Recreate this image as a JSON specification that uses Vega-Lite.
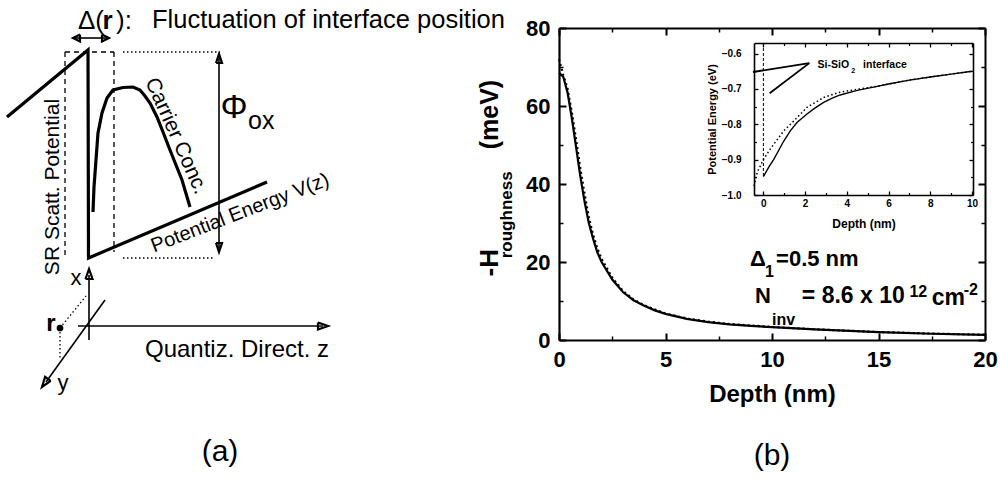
{
  "$schema": "https://vega.github.io/schema/vega-lite/v6.json",
  "width": 1000,
  "height": 479,
  "autosize": {"type": "none"},
  "padding": 0,
  "background": "white",
  "config": {
    "view": {"stroke": null},
    "font": "Liberation Sans",
    "axis": {"grid": false, "domainColor": "black", "tickColor": "black", "labelColor": "black", "titleColor": "black", "labelFlush": false, "labelOverlap": false, "labelFont": "Liberation Sans", "titleFont": "Liberation Sans"}
  },
  "datasets": {
    "mainCurves": [
      {"series": "solid", "depth": 0, "value": 68.5},
      {"series": "solid", "depth": 0.2, "value": 67.5},
      {"series": "solid", "depth": 0.4, "value": 63.5},
      {"series": "solid", "depth": 0.6, "value": 57},
      {"series": "solid", "depth": 0.8, "value": 49.5},
      {"series": "solid", "depth": 1.0, "value": 42},
      {"series": "solid", "depth": 1.2, "value": 35.5},
      {"series": "solid", "depth": 1.4, "value": 30},
      {"series": "solid", "depth": 1.6, "value": 26},
      {"series": "solid", "depth": 1.8, "value": 22.5},
      {"series": "solid", "depth": 2.0, "value": 20},
      {"series": "solid", "depth": 2.5, "value": 15.5},
      {"series": "solid", "depth": 3.0, "value": 12.3},
      {"series": "solid", "depth": 3.5, "value": 10.2},
      {"series": "solid", "depth": 4.0, "value": 8.8},
      {"series": "solid", "depth": 4.5, "value": 7.6},
      {"series": "solid", "depth": 5, "value": 6.7},
      {"series": "solid", "depth": 6, "value": 5.4},
      {"series": "solid", "depth": 7, "value": 4.6},
      {"series": "solid", "depth": 8, "value": 4.0},
      {"series": "solid", "depth": 9, "value": 3.6},
      {"series": "solid", "depth": 10, "value": 3.3},
      {"series": "solid", "depth": 12, "value": 2.7},
      {"series": "solid", "depth": 15, "value": 2.0},
      {"series": "solid", "depth": 17.5, "value": 1.6},
      {"series": "solid", "depth": 20, "value": 1.3},
      {"series": "dotted", "depth": 0, "value": 72},
      {"series": "dotted", "depth": 0.1, "value": 70},
      {"series": "dotted", "depth": 0.2, "value": 68},
      {"series": "dotted", "depth": 0.4, "value": 64.5},
      {"series": "dotted", "depth": 0.6, "value": 58.5},
      {"series": "dotted", "depth": 0.8, "value": 51.5},
      {"series": "dotted", "depth": 1.0, "value": 44},
      {"series": "dotted", "depth": 1.2, "value": 37.5},
      {"series": "dotted", "depth": 1.4, "value": 31.5},
      {"series": "dotted", "depth": 1.6, "value": 27},
      {"series": "dotted", "depth": 1.8, "value": 23.5},
      {"series": "dotted", "depth": 2.0, "value": 20.8},
      {"series": "dotted", "depth": 2.5, "value": 16},
      {"series": "dotted", "depth": 3.0, "value": 12.6},
      {"series": "dotted", "depth": 3.5, "value": 10.4},
      {"series": "dotted", "depth": 4, "value": 8.9},
      {"series": "dotted", "depth": 5, "value": 6.8},
      {"series": "dotted", "depth": 6, "value": 5.5},
      {"series": "dotted", "depth": 7, "value": 4.7},
      {"series": "dotted", "depth": 8, "value": 4.1},
      {"series": "dotted", "depth": 10, "value": 3.35},
      {"series": "dotted", "depth": 12, "value": 2.75},
      {"series": "dotted", "depth": 15, "value": 2.05},
      {"series": "dotted", "depth": 17.5, "value": 1.65},
      {"series": "dotted", "depth": 20, "value": 1.35}
    ],
    "insetCurves": [
      {"series": "solid", "depth": 0, "energy": -0.948},
      {"series": "solid", "depth": 0.25, "energy": -0.922},
      {"series": "solid", "depth": 0.49, "energy": -0.9},
      {"series": "solid", "depth": 0.75, "energy": -0.872},
      {"series": "solid", "depth": 0.97, "energy": -0.848},
      {"series": "solid", "depth": 1.3, "energy": -0.818},
      {"series": "solid", "depth": 1.61, "energy": -0.795},
      {"series": "solid", "depth": 2.09, "energy": -0.771},
      {"series": "solid", "depth": 2.5, "energy": -0.753},
      {"series": "solid", "depth": 2.89, "energy": -0.738},
      {"series": "solid", "depth": 3.3, "energy": -0.726},
      {"series": "solid", "depth": 3.68, "energy": -0.717},
      {"series": "solid", "depth": 4.5, "energy": -0.704},
      {"series": "solid", "depth": 5.28, "energy": -0.695},
      {"series": "solid", "depth": 6, "energy": -0.686},
      {"series": "solid", "depth": 7, "energy": -0.675},
      {"series": "solid", "depth": 8, "energy": -0.666},
      {"series": "solid", "depth": 9, "energy": -0.658},
      {"series": "solid", "depth": 10, "energy": -0.65},
      {"series": "dotted", "depth": -0.45, "energy": -0.975},
      {"series": "dotted", "depth": -0.29, "energy": -0.935},
      {"series": "dotted", "depth": 0, "energy": -0.9},
      {"series": "dotted", "depth": 0.25, "energy": -0.877},
      {"series": "dotted", "depth": 0.49, "energy": -0.857},
      {"series": "dotted", "depth": 0.97, "energy": -0.819},
      {"series": "dotted", "depth": 1.45, "energy": -0.791},
      {"series": "dotted", "depth": 2.09, "energy": -0.752},
      {"series": "dotted", "depth": 2.89, "energy": -0.724},
      {"series": "dotted", "depth": 3.68, "energy": -0.709},
      {"series": "dotted", "depth": 4.5, "energy": -0.701},
      {"series": "dotted", "depth": 5.28, "energy": -0.694},
      {"series": "dotted", "depth": 6, "energy": -0.686},
      {"series": "dotted", "depth": 7, "energy": -0.675},
      {"series": "dotted", "depth": 8, "energy": -0.666},
      {"series": "dotted", "depth": 9, "energy": -0.658},
      {"series": "dotted", "depth": 10, "energy": -0.65},
      {"series": "barrier", "depth": 0, "energy": -0.57},
      {"series": "barrier", "depth": 0, "energy": -0.948}
    ],
    "insetArrows": [
      {"arrow": "a1", "o": 0, "depth": 2.2, "energy": -0.627},
      {"arrow": "a1", "o": 1, "depth": -0.5, "energy": -0.652},
      {"arrow": "a2", "o": 0, "depth": 2.2, "energy": -0.627},
      {"arrow": "a2", "o": 1, "depth": 0.3, "energy": -0.712}
    ],
    "diagramLines": [
      {"seg": "potential", "o": 0, "x": 0.7, "y": 11.7},
      {"seg": "potential", "o": 1, "x": 8.8, "y": 5.0},
      {"seg": "potential", "o": 2, "x": 8.85, "y": 25.8},
      {"seg": "potential", "o": 3, "x": 26.7, "y": 18.2},
      {"seg": "carrier", "o": 0, "x": 9.3, "y": 21.2},
      {"seg": "carrier", "o": 1, "x": 9.4, "y": 18.7},
      {"seg": "carrier", "o": 2, "x": 9.6, "y": 16.0},
      {"seg": "carrier", "o": 3, "x": 9.8, "y": 13.3},
      {"seg": "carrier", "o": 4, "x": 10.2, "y": 11.3},
      {"seg": "carrier", "o": 5, "x": 10.7, "y": 9.8},
      {"seg": "carrier", "o": 6, "x": 11.3, "y": 9.0},
      {"seg": "carrier", "o": 7, "x": 12.3, "y": 8.75},
      {"seg": "carrier", "o": 8, "x": 13.3, "y": 8.7},
      {"seg": "carrier", "o": 9, "x": 14.0, "y": 9.0},
      {"seg": "carrier", "o": 10, "x": 14.5, "y": 9.6},
      {"seg": "carrier", "o": 11, "x": 15.0, "y": 10.3},
      {"seg": "carrier", "o": 12, "x": 15.7, "y": 11.7},
      {"seg": "carrier", "o": 13, "x": 16.3, "y": 13.2},
      {"seg": "carrier", "o": 14, "x": 17.0, "y": 15.0},
      {"seg": "carrier", "o": 15, "x": 17.6, "y": 16.5},
      {"seg": "carrier", "o": 16, "x": 18.2, "y": 18.0},
      {"seg": "carrier", "o": 17, "x": 19.0, "y": 20.7},
      {"seg": "dashL", "o": 0, "x": 6.5, "y": 5.2},
      {"seg": "dashL", "o": 1, "x": 6.5, "y": 25.5},
      {"seg": "dashTop", "o": 0, "x": 6.5, "y": 5.2},
      {"seg": "dashTop", "o": 1, "x": 11.4, "y": 5.2},
      {"seg": "dashR", "o": 0, "x": 11.4, "y": 5.2},
      {"seg": "dashR", "o": 1, "x": 11.4, "y": 25.2},
      {"seg": "dotTop", "o": 0, "x": 12.3, "y": 5.2},
      {"seg": "dotTop", "o": 1, "x": 22.0, "y": 5.2},
      {"seg": "dotBottom", "o": 0, "x": 12.3, "y": 25.8},
      {"seg": "dotBottom", "o": 1, "x": 21.3, "y": 25.8},
      {"seg": "rx", "o": 0, "x": 6.0, "y": 32.8},
      {"seg": "rx", "o": 1, "x": 8.6, "y": 29.6},
      {"seg": "ry", "o": 0, "x": 6.0, "y": 32.8},
      {"seg": "ry", "o": 1, "x": 6.0, "y": 35.8},
      {"seg": "phi", "o": 0, "x": 21.9, "y": 5.8},
      {"seg": "phi", "o": 1, "x": 21.9, "y": 24.8},
      {"seg": "delta", "o": 0, "x": 7.5, "y": 3.8},
      {"seg": "delta", "o": 1, "x": 10.7, "y": 3.8},
      {"seg": "xaxis", "o": 0, "x": 8.9, "y": 34.0},
      {"seg": "xaxis", "o": 1, "x": 8.9, "y": 27.5},
      {"seg": "zaxis", "o": 0, "x": 7.8, "y": 32.6},
      {"seg": "zaxis", "o": 1, "x": 32.3, "y": 32.6},
      {"seg": "yaxis", "o": 0, "x": 10.5, "y": 30.0},
      {"seg": "yaxis", "o": 1, "x": 4.6, "y": 38.2},
      {"seg": "headDL", "o": 0, "x": 8.0, "y": 3.45},
      {"seg": "headDL", "o": 1, "x": 7.3, "y": 3.8},
      {"seg": "headDL", "o": 2, "x": 8.0, "y": 4.15},
      {"seg": "headDL", "o": 3, "x": 8.0, "y": 3.45},
      {"seg": "headDR", "o": 0, "x": 10.2, "y": 3.45},
      {"seg": "headDR", "o": 1, "x": 10.9, "y": 3.8},
      {"seg": "headDR", "o": 2, "x": 10.2, "y": 4.15},
      {"seg": "headDR", "o": 3, "x": 10.2, "y": 3.45},
      {"seg": "headPU", "o": 0, "x": 21.6, "y": 6.3},
      {"seg": "headPU", "o": 1, "x": 21.9, "y": 5.4},
      {"seg": "headPU", "o": 2, "x": 22.2, "y": 6.3},
      {"seg": "headPU", "o": 3, "x": 21.6, "y": 6.3},
      {"seg": "headPD", "o": 0, "x": 21.6, "y": 24.3},
      {"seg": "headPD", "o": 1, "x": 21.9, "y": 25.2},
      {"seg": "headPD", "o": 2, "x": 22.2, "y": 24.3},
      {"seg": "headPD", "o": 3, "x": 21.6, "y": 24.3},
      {"seg": "headX", "o": 0, "x": 8.55, "y": 27.9},
      {"seg": "headX", "o": 1, "x": 8.9, "y": 26.9},
      {"seg": "headX", "o": 2, "x": 9.25, "y": 27.9},
      {"seg": "headX", "o": 3, "x": 8.55, "y": 27.9},
      {"seg": "headZ", "o": 0, "x": 31.8, "y": 32.25},
      {"seg": "headZ", "o": 1, "x": 32.8, "y": 32.6},
      {"seg": "headZ", "o": 2, "x": 31.8, "y": 32.95},
      {"seg": "headZ", "o": 3, "x": 31.8, "y": 32.25},
      {"seg": "headY", "o": 0, "x": 5.07, "y": 38.09},
      {"seg": "headY", "o": 1, "x": 4.2, "y": 38.7},
      {"seg": "headY", "o": 2, "x": 4.51, "y": 37.69},
      {"seg": "headY", "o": 3, "x": 5.07, "y": 38.09}
    ]
  },
  "layer": [
    {
      "encoding": {
        "x": {"field": "depth", "type": "quantitative", "scale": {"domain": [0, 20], "range": [559, 985], "nice": false, "zero": false}, "axis": null},
        "y": {"field": "value", "type": "quantitative", "scale": {"domain": [0, 80], "range": [340, 28], "nice": false, "zero": false}, "axis": null}
      },
      "layer": [
        {
          "data": {"name": "mainCurves"},
          "transform": [{"filter": "datum.series === 'solid'"}],
          "mark": {"type": "line", "color": "black", "strokeWidth": 2.2},
          "encoding": {
            "x": {"field": "depth", "type": "quantitative", "scale": {"domain": [0, 20], "range": [559, 985], "nice": false, "zero": false},
              "axis": {"orient": "bottom", "offset": -139, "values": [0, 5, 10, 15, 20], "format": "d", "tickSize": -7, "tickWidth": 2, "domainWidth": 2.2, "labelFontSize": 22, "labelFontWeight": "bold", "labelPadding": 16, "title": "Depth (nm)", "titleFontSize": 24, "titleFontWeight": "bold", "titlePadding": 12}},
            "y": {"field": "value", "type": "quantitative", "scale": {"domain": [0, 80], "range": [340, 28], "nice": false, "zero": false},
              "axis": {"orient": "left", "offset": -559, "values": [0, 20, 40, 60, 80], "format": "d", "tickSize": -7, "tickWidth": 2, "domainWidth": 2.2, "labelFontSize": 22, "labelFontWeight": "bold", "labelPadding": 16, "title": null}}
          }
        },
        {
          "data": {"name": "mainCurves"},
          "transform": [{"filter": "datum.series === 'dotted'"}],
          "mark": {"type": "line", "color": "black", "strokeWidth": 2.2, "strokeDash": [2, 3]},
          "encoding": {
            "x": {"field": "depth", "type": "quantitative", "scale": {"domain": [0, 20], "range": [559, 985], "nice": false, "zero": false},
              "axis": {"orient": "top", "offset": -28, "values": [0, 5, 10, 15, 20], "tickSize": -7, "tickWidth": 2, "domainWidth": 2, "labels": false, "title": null}},
            "y": {"field": "value", "type": "quantitative", "scale": {"domain": [0, 80], "range": [340, 28], "nice": false, "zero": false},
              "axis": {"orient": "right", "offset": -15, "values": [0, 20, 40, 60, 80], "tickSize": -7, "tickWidth": 2, "domainWidth": 2, "labels": false, "title": null}}
          }
        },
        {
          "data": {"values": [{"t": "-H", "depth": -3.24, "value": 19.8}]},
          "mark": {"type": "text", "angle": 270, "fontSize": 26, "fontWeight": "bold", "align": "center", "baseline": "middle", "color": "black"},
          "encoding": {
            "x": {"field": "depth", "type": "quantitative", "scale": {"domain": [0, 20], "range": [559, 985], "nice": false, "zero": false},
              "axis": {"orient": "bottom", "offset": -139, "values": [2.5, 7.5, 12.5, 17.5], "tickSize": -4, "tickWidth": 1.5, "domain": false, "labels": false, "title": null}},
            "y": {"field": "value", "type": "quantitative", "scale": {"domain": [0, 80], "range": [340, 28], "nice": false, "zero": false},
              "axis": {"orient": "left", "offset": -559, "values": [10, 30, 50, 70], "tickSize": -4, "tickWidth": 1.5, "domain": false, "labels": false, "title": null}},
            "text": {"field": "t"}
          }
        },
        {
          "data": {"values": [{"t": "(meV)", "depth": -3.24, "value": 57.8}]},
          "mark": {"type": "text", "angle": 270, "fontSize": 25, "fontWeight": "bold", "align": "center", "baseline": "middle", "color": "black"},
          "encoding": {
            "x": {"field": "depth", "type": "quantitative", "scale": {"domain": [0, 20], "range": [559, 985], "nice": false, "zero": false},
              "axis": {"orient": "top", "offset": -28, "values": [2.5, 7.5, 12.5, 17.5], "tickSize": -4, "tickWidth": 1.5, "domain": false, "labels": false, "title": null}},
            "y": {"field": "value", "type": "quantitative", "scale": {"domain": [0, 80], "range": [340, 28], "nice": false, "zero": false},
              "axis": {"orient": "right", "offset": -15, "values": [10, 30, 50, 70], "tickSize": -4, "tickWidth": 1.5, "domain": false, "labels": false, "title": null}},
            "text": {"field": "t"}
          }
        },
        {
          "data": {"values": [{"t": "roughness", "depth": -2.44, "value": 32.1}]},
          "mark": {"type": "text", "angle": 270, "fontSize": 17, "fontWeight": "bold", "align": "center", "baseline": "middle", "color": "black"},
          "encoding": {"text": {"field": "t"}}
        },
        {
          "data": {"values": [
            {"t": "Δ", "depth": 8.97, "value": 20.8},
            {"t": "=0.5 nm", "depth": 10.19, "value": 20.8},
            {"t": "N", "depth": 9.2, "value": 11.3}
          ]},
          "mark": {"type": "text", "fontSize": 22, "fontWeight": "bold", "align": "left", "baseline": "middle", "color": "black"},
          "encoding": {"text": {"field": "t"}}
        },
        {
          "data": {"values": [
            {"t": "= 8.6 x 10", "depth": 11.4, "value": 11.3},
            {"t": "cm", "depth": 17.5, "value": 10.8}
          ]},
          "mark": {"type": "text", "fontSize": 23, "fontWeight": "bold", "align": "left", "baseline": "middle", "color": "black"},
          "encoding": {"text": {"field": "t"}}
        },
        {
          "data": {"values": [
            {"t": "1", "depth": 9.67, "value": 17.4},
            {"t": "inv", "depth": 10.0, "value": 5.1},
            {"t": "12", "depth": 16.45, "value": 12.4},
            {"t": "-2", "depth": 19.0, "value": 12.9}
          ]},
          "mark": {"type": "text", "fontSize": 16, "fontWeight": "bold", "align": "left", "baseline": "middle", "color": "black"},
          "encoding": {"text": {"field": "t"}}
        }
      ],
      "resolve": {"axis": {"x": "independent", "y": "independent"}}
    },
    {
      "encoding": {
        "x": {"field": "depth", "type": "quantitative", "scale": {"domain": [-0.45, 10.05], "range": [754, 973], "nice": false, "zero": false}, "axis": null},
        "y": {"field": "energy", "type": "quantitative", "scale": {"domain": [-1.0, -0.57], "range": [195, 43], "nice": false, "zero": false}, "axis": null}
      },
      "layer": [
        {
          "data": {"name": "insetCurves"},
          "transform": [{"filter": "datum.series === 'solid'"}],
          "mark": {"type": "line", "color": "black", "strokeWidth": 1.4},
          "encoding": {
            "x": {"field": "depth", "type": "quantitative", "scale": {"domain": [-0.45, 10.05], "range": [754, 973], "nice": false, "zero": false},
              "axis": {"orient": "bottom", "offset": -284, "values": [0, 2, 4, 6, 8, 10], "format": "d", "tickSize": -4, "tickWidth": 1.3, "domainWidth": 1.6, "labelFontSize": 10, "labelFontWeight": "bold", "labelPadding": 7, "title": "Depth (nm)", "titleFontSize": 12, "titleFontWeight": "bold", "titlePadding": 10}},
            "y": {"field": "energy", "type": "quantitative", "scale": {"domain": [-1.0, -0.57], "range": [195, 43], "nice": false, "zero": false},
              "axis": {"orient": "left", "offset": -754, "values": [-1.0, -0.9, -0.8, -0.7, -0.6], "format": ".1f", "tickSize": -4, "tickWidth": 1.3, "domainWidth": 1.6, "labelFontSize": 10, "labelFontWeight": "bold", "labelPadding": 17, "title": "Potential Energy (eV)", "titleFontSize": 11, "titleFontWeight": "bold", "titlePadding": 4}}
          }
        },
        {
          "data": {"name": "insetCurves"},
          "transform": [{"filter": "datum.series === 'dotted'"}],
          "mark": {"type": "line", "color": "black", "strokeWidth": 1.5, "strokeDash": [1.5, 2.5]},
          "encoding": {
            "x": {"field": "depth", "type": "quantitative", "scale": {"domain": [-0.45, 10.05], "range": [754, 973], "nice": false, "zero": false},
              "axis": {"orient": "top", "offset": -43, "values": [0, 2, 4, 6, 8, 10], "tickSize": -4, "tickWidth": 1.3, "domainWidth": 1.6, "labels": false, "title": null}},
            "y": {"field": "energy", "type": "quantitative", "scale": {"domain": [-1.0, -0.57], "range": [195, 43], "nice": false, "zero": false},
              "axis": {"orient": "right", "offset": -27, "values": [-1.0, -0.9, -0.8, -0.7, -0.6], "tickSize": -4, "tickWidth": 1.3, "domainWidth": 1.6, "labels": false, "title": null}}
          }
        },
        {
          "data": {"name": "insetCurves"},
          "transform": [{"filter": "datum.series === 'barrier'"}],
          "mark": {"type": "line", "color": "black", "strokeWidth": 1, "strokeDash": [3, 2]},
          "encoding": {
            "x": {"field": "depth", "type": "quantitative", "scale": {"domain": [-0.45, 10.05], "range": [754, 973], "nice": false, "zero": false},
              "axis": {"orient": "bottom", "offset": -284, "values": [1, 3, 5, 7, 9], "tickSize": -2.5, "tickWidth": 1.2, "domain": false, "labels": false, "title": null}},
            "y": {"field": "energy", "type": "quantitative", "scale": {"domain": [-1.0, -0.57], "range": [195, 43], "nice": false, "zero": false},
              "axis": {"orient": "left", "offset": -754, "values": [-0.95, -0.85, -0.75, -0.65], "tickSize": -2.5, "tickWidth": 1.2, "domain": false, "labels": false, "title": null}}
          }
        },
        {
          "data": {"name": "insetArrows"},
          "mark": {"type": "line", "color": "black", "strokeWidth": 1.8},
          "encoding": {
            "x": {"field": "depth", "type": "quantitative", "scale": {"domain": [-0.45, 10.05], "range": [754, 973], "nice": false, "zero": false},
              "axis": {"orient": "top", "offset": -43, "values": [1, 3, 5, 7, 9], "tickSize": -2.5, "tickWidth": 1.2, "domain": false, "labels": false, "title": null}},
            "y": {"field": "energy", "type": "quantitative", "scale": {"domain": [-1.0, -0.57], "range": [195, 43], "nice": false, "zero": false},
              "axis": {"orient": "right", "offset": -27, "values": [-0.95, -0.85, -0.75, -0.65], "tickSize": -2.5, "tickWidth": 1.2, "domain": false, "labels": false, "title": null}},
            "detail": {"field": "arrow"},
            "order": {"field": "o", "type": "quantitative"}
          }
        },
        {
          "data": {"values": [
            {"t": "Si-SiO", "depth": 2.6, "energy": -0.631},
            {"t": "interface", "depth": 4.78, "energy": -0.631}
          ]},
          "mark": {"type": "text", "fontSize": 10.5, "fontWeight": "bold", "align": "left", "baseline": "middle", "color": "black"},
          "encoding": {"text": {"field": "t"}}
        },
        {
          "data": {"values": [{"t": "2", "depth": 4.21, "energy": -0.648}]},
          "mark": {"type": "text", "fontSize": 7, "fontWeight": "bold", "align": "left", "baseline": "middle", "color": "black"},
          "encoding": {"text": {"field": "t"}}
        }
      ],
      "resolve": {"axis": {"x": "independent", "y": "independent"}}
    },
    {
      "encoding": {
        "x": {"field": "x", "type": "quantitative", "scale": {"domain": [0, 50], "range": [0, 500], "nice": false, "zero": false}, "axis": null},
        "y": {"field": "y", "type": "quantitative", "scale": {"domain": [0, 47.9], "range": [0, 479], "nice": false, "zero": false}, "axis": null}
      },
      "layer": [
        {
          "data": {"name": "diagramLines"},
          "transform": [{"filter": {"field": "seg", "oneOf": ["potential", "carrier"]}}],
          "mark": {"type": "line", "color": "black", "strokeWidth": 3.2},
          "encoding": {"detail": {"field": "seg"}, "order": {"field": "o", "type": "quantitative"}}
        },
        {
          "data": {"name": "diagramLines"},
          "transform": [{"filter": {"field": "seg", "oneOf": ["dashL", "dashTop", "dashR"]}}],
          "mark": {"type": "line", "color": "black", "strokeWidth": 1.3, "strokeDash": [5, 4]},
          "encoding": {"detail": {"field": "seg"}, "order": {"field": "o", "type": "quantitative"}}
        },
        {
          "data": {"name": "diagramLines"},
          "transform": [{"filter": {"field": "seg", "oneOf": ["dotTop", "dotBottom", "rx", "ry"]}}],
          "mark": {"type": "line", "color": "black", "strokeWidth": 1.3, "strokeDash": [1.5, 2.5]},
          "encoding": {"detail": {"field": "seg"}, "order": {"field": "o", "type": "quantitative"}}
        },
        {
          "data": {"name": "diagramLines"},
          "transform": [{"filter": {"field": "seg", "oneOf": ["phi", "delta", "xaxis", "zaxis", "yaxis"]}}],
          "mark": {"type": "line", "color": "black", "strokeWidth": 1.6},
          "encoding": {"detail": {"field": "seg"}, "order": {"field": "o", "type": "quantitative"}}
        },
        {
          "data": {"name": "diagramLines"},
          "transform": [{"filter": {"field": "seg", "oneOf": ["headDL", "headDR", "headPU", "headPD", "headX", "headZ", "headY"]}}],
          "mark": {"type": "line", "color": "black", "strokeWidth": 2.2, "strokeJoin": "miter"},
          "encoding": {"detail": {"field": "seg"}, "order": {"field": "o", "type": "quantitative"}}
        },
        {
          "data": {"values": [{"x": 6.0, "y": 32.8}]},
          "mark": {"type": "point", "filled": true, "shape": "circle", "color": "black", "opacity": 1, "size": 45}
        },
        {
          "data": {"values": [{"t": "Fluctuation of interface position", "x": 15.2, "y": 2.0}]},
          "mark": {"type": "text", "fontSize": 25.5, "align": "left", "baseline": "middle", "color": "black"},
          "encoding": {"text": {"field": "t"}}
        },
        {
          "data": {"values": [{"t": "Δ(", "x": 7.8, "y": 2.1}, {"t": "):", "x": 11.6, "y": 2.1}]},
          "mark": {"type": "text", "fontSize": 26, "align": "left", "baseline": "middle", "color": "black"},
          "encoding": {"text": {"field": "t"}}
        },
        {
          "data": {"values": [{"t": "r", "x": 10.25, "y": 2.1}]},
          "mark": {"type": "text", "fontSize": 26, "fontWeight": "bold", "align": "left", "baseline": "middle", "color": "black"},
          "encoding": {"text": {"field": "t"}}
        },
        {
          "data": {"values": [{"t": "Φ", "x": 23.4, "y": 10.8}]},
          "mark": {"type": "text", "fontSize": 34, "align": "center", "baseline": "middle", "color": "black"},
          "encoding": {"text": {"field": "t"}}
        },
        {
          "data": {"values": [{"t": "ox", "x": 24.8, "y": 12.1}]},
          "mark": {"type": "text", "fontSize": 25, "align": "left", "baseline": "middle", "color": "black"},
          "encoding": {"text": {"field": "t"}}
        },
        {
          "data": {"values": [{"t": "SR Scatt. Potential", "x": 5.25, "y": 18.7}]},
          "mark": {"type": "text", "fontSize": 21, "angle": 270, "align": "center", "baseline": "middle", "color": "black"},
          "encoding": {"text": {"field": "t"}}
        },
        {
          "data": {"values": [{"t": "Carrier Conc.", "x": 17.6, "y": 13.6}]},
          "mark": {"type": "text", "fontSize": 21, "angle": 66, "align": "center", "baseline": "middle", "color": "black"},
          "encoding": {"text": {"field": "t"}}
        },
        {
          "data": {"values": [{"t": "Potential Energy V(z)", "x": 24.0, "y": 21.3}]},
          "mark": {"type": "text", "fontSize": 20, "angle": 339, "align": "center", "baseline": "middle", "color": "black"},
          "encoding": {"text": {"field": "t"}}
        },
        {
          "data": {"values": [{"t": "x", "x": 7.6, "y": 27.8}, {"t": "y", "x": 6.3, "y": 38.3}]},
          "mark": {"type": "text", "fontSize": 22, "align": "center", "baseline": "middle", "color": "black"},
          "encoding": {"text": {"field": "t"}}
        },
        {
          "data": {"values": [{"t": "r", "x": 5.1, "y": 32.4}]},
          "mark": {"type": "text", "fontSize": 24, "fontWeight": "bold", "align": "center", "baseline": "middle", "color": "black"},
          "encoding": {"text": {"field": "t"}}
        },
        {
          "data": {"values": [{"t": "Quantiz. Direct. z", "x": 23.7, "y": 35.0}]},
          "mark": {"type": "text", "fontSize": 24, "align": "center", "baseline": "middle", "color": "black"},
          "encoding": {"text": {"field": "t"}}
        },
        {
          "data": {"values": [{"t": "(a)", "x": 22.0, "y": 45.2}, {"t": "(b)", "x": 77.2, "y": 45.6}]},
          "mark": {"type": "text", "fontSize": 30, "align": "center", "baseline": "middle", "color": "black"},
          "encoding": {"text": {"field": "t"}}
        }
      ]
    }
  ],
  "resolve": {"scale": {"x": "independent", "y": "independent"}}
}
